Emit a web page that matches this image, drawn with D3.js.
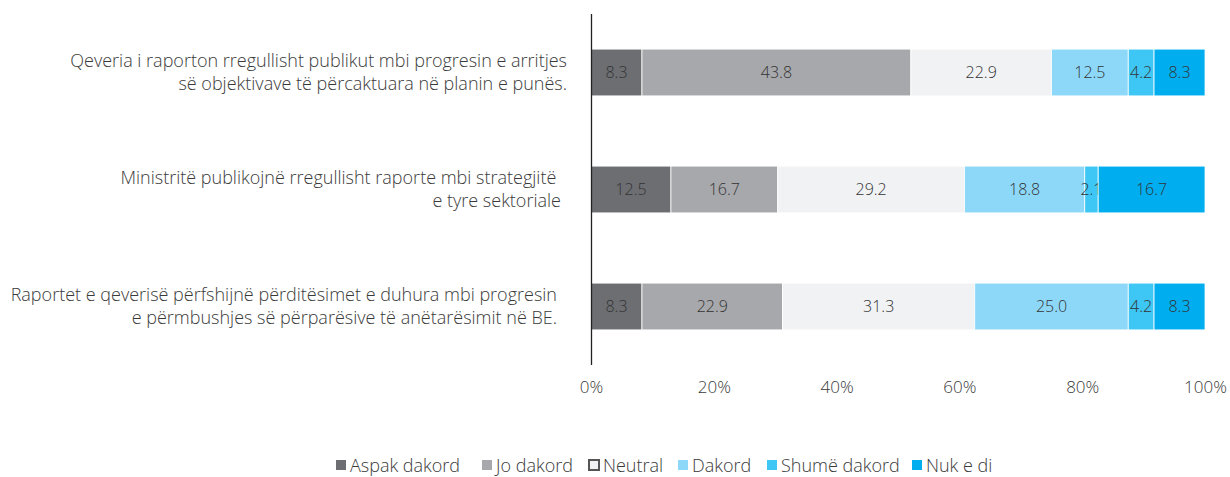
<!DOCTYPE html>
<html><head><meta charset="utf-8">
<script src="https://cdn.jsdelivr.net/npm/d3@7"></script>
<style>
body{margin:0;background:#fff;}
text{font-family:"Open Sans","Segoe UI",sans-serif;font-weight:300;fill:#3a3a3a;}
</style></head>
<body><svg id="chart" width="1230" height="477"></svg>
<script>
const categories = [
  ["Qeveria i raporton rregullisht publikut mbi progresin e arritjes", "së objektivave të përcaktuara në planin e punës."],
  ["Ministritë publikojnë rregullisht raporte mbi strategjitë ", "e tyre sektoriale"],
  ["Raportet e qeverisë përfshijnë përditësimet e duhura mbi progresin", "e përmbushjes së përparësive të anëtarësimit në BE."]
];
const seriesNames = ["Aspak dakord", "Jo dakord", "Neutral", "Dakord", "Shumë dakord", "Nuk e di"];
const aspak   = [8.3, 12.5, 8.3];
const jo      = [43.8, 16.7, 22.9];
const neutral = [22.9, 29.2, 31.3];
const dakord  = [12.5, 18.8, 25.0];
const shume   = [4.2, 2.1, 4.2];
const nuk     = [8.3, 16.7, 8.3];
const tickValues = [0, 20, 40, 60, 80, 100];
const colors = ["#6d6e72", "#a7a8ab", "#f1f2f4", "#8dd8f8", "#3ec6f4", "#00aeef"];

const seriesVals = [aspak, jo, neutral, dakord, shume, nuk];
const rows = categories.map((c, i) => {
  const o = {idx: i};
  seriesNames.forEach((s, j) => o[s] = seriesVals[j][i]);
  return o;
});
const stack = d3.stack().keys(seriesNames).offset(d3.stackOffsetExpand)(rows);

const svg = d3.select("#chart");
const x = d3.scaleLinear().domain([0, 1]).range([591, 1205]);
const xt = d3.scaleLinear().domain([0, 100]).range([591, 1205]);
const y = d3.scaleBand().domain([0, 1, 2]).range([14, 365]).paddingInner(0.6).paddingOuter(0.3);

const g = svg.append("g");
stack.forEach((layer, li) => {
  layer.forEach((d, i) => {
    const w = x(d[1]) - x(d[0]);
    g.append("rect")
      .attr("x", x(d[0])).attr("y", y(i))
      .attr("width", w).attr("height", y.bandwidth())
      .attr("fill", colors[li])
      .attr("stroke", "#fff").attr("stroke-width", 0.8);
    g.append("text")
      .attr("x", x(d[0]) + w / 2).attr("y", y(i) + y.bandwidth() / 2)
      .attr("dy", "0.35em").attr("text-anchor", "middle")
      .style("font-size", "16px").style("fill", "#333")
      .text(seriesVals[li][i].toFixed(1));
  });
});

// vertical axis line
svg.append("line").attr("x1", 591.5).attr("x2", 591.5).attr("y1", 14).attr("y2", 365)
  .attr("stroke", "#222").attr("stroke-width", 1.3);

// x ticks
const xAxis = d3.axisBottom(xt).tickValues(tickValues).tickFormat(d => d + "%").tickSize(0).tickPadding(0);
const ax = svg.append("g").attr("transform", "translate(0,381)").call(xAxis);
ax.select(".domain").remove();
ax.selectAll("text").style("font-size", "17px").style("font-family", "'Open Sans',sans-serif").style("font-weight", "300").style("fill", "#3a3a3a");

// category labels
const labelRight = [567, 561, 557];
categories.forEach((lines, i) => {
  const cy = y(i) + y.bandwidth() / 2;
  const t = svg.append("text").attr("text-anchor", "end").style("font-size", "18px").style("white-space", "pre");
  lines.forEach((ln, k) => {
    t.append("tspan").attr("x", labelRight[i]).attr("y", cy - 11.5 + k * 23).attr("dy", "0.35em").text(ln);
  });
});

// legend
const legX = [336, 482, 589, 678, 767, 912];
const leg = svg.append("g").attr("transform", "translate(0,460)");
seriesNames.forEach((s, i) => {
  leg.append("rect").attr("x", legX[i]).attr("y", 0).attr("width", 10).attr("height", 10)
    .attr("fill", colors[i])
    .attr("stroke", i === 2 ? "#555" : "none").attr("stroke-width", 2);
  leg.append("text").attr("x", legX[i] + 14).attr("y", 11.5)
    .style("font-size", "18px").text(s);
});
</script></body></html>
